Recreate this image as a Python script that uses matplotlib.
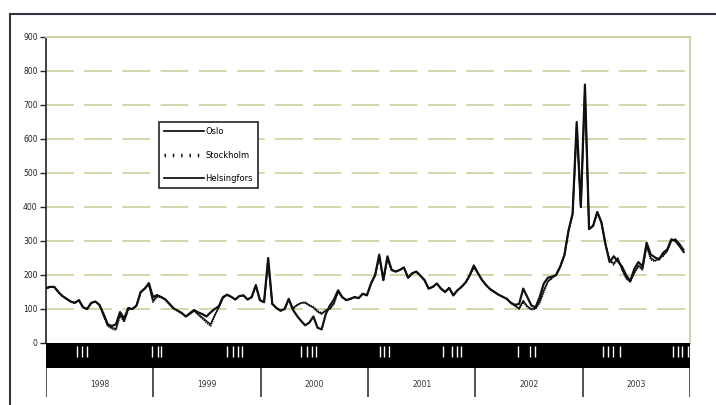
import numpy as np
import matplotlib
matplotlib.use("Agg")
import matplotlib.pyplot as plt
from matplotlib.lines import Line2D

plt.rcParams['lines.scale_dashes'] = False

# biweekly area prices, starting January 1998
oslo = [162, 165, 165, 150, 138, 130, 122, 118, 126, 105,
        100, 118, 122, 112, 85, 55, 50, 55, 91, 72,
        103, 100, 110, 150, 160, 176, 135, 141, 135, 128,
        115, 102, 95, 88, 78, 88, 97, 90, 85, 78,
        90, 100, 108, 135, 142, 136, 128, 138, 140, 128,
        135, 170, 126, 120, 250, 115, 103, 95, 100, 130,
        98, 80, 65, 52, 60, 78, 45, 40, 85, 110,
        128, 155, 135, 126, 130, 135, 132, 145, 140, 175,
        200, 260, 185, 255, 215, 210, 215, 222, 192, 205,
        210, 198, 185, 160, 165, 175, 160, 150, 162, 140,
        155, 165, 178, 200, 228, 205, 185, 170, 158, 150,
        142, 136, 130, 118, 112, 115, 160, 135, 110, 105,
        135, 175, 192, 195, 200, 225, 258, 330, 380, 650,
        400, 760, 335, 345, 385, 355, 290, 238, 255, 240,
        225, 200, 182, 218, 238, 225, 295, 260, 252, 245,
        265, 275, 305, 300, 285, 268]

stockholm = [160, 165, 165, 150, 138, 130, 122, 118, 126, 105,
             100, 118, 122, 112, 80, 50, 42, 38, 80, 62,
             98, 100, 110, 148, 160, 172, 120, 135, 135, 128,
             115, 102, 95, 88, 78, 85, 95, 82, 72, 60,
             50, 80, 105, 132, 142, 136, 128, 138, 140, 128,
             135, 170, 126, 120, 245, 115, 103, 95, 100, 128,
             100, 110, 118, 120, 112, 106, 95, 88, 97, 100,
             115, 150, 135, 126, 130, 135, 132, 145, 140, 175,
             198, 255, 185, 250, 215, 210, 215, 222, 192, 205,
             210, 198, 185, 160, 165, 175, 160, 150, 162, 140,
             155, 165, 178, 198, 222, 205, 185, 170, 158, 150,
             142, 136, 130, 118, 108, 100, 120, 105, 98, 100,
             118, 150, 180, 190, 200, 225, 258, 330, 380, 640,
             400, 750, 335, 345, 385, 355, 290, 245, 230, 250,
             215, 190, 180, 205, 225, 215, 285, 245, 240, 250,
             255, 270, 300, 305, 290, 272]

helsingfors = [160, 165, 165, 150, 138, 130, 122, 118, 126, 105,
               100, 118, 122, 112, 82, 52, 45, 42, 85, 65,
               100, 100, 110, 148, 160, 172, 125, 138, 135, 128,
               115, 102, 95, 88, 78, 86, 95, 85, 75, 65,
               55, 82, 105, 132, 142, 136, 128, 138, 140, 128,
               135, 168, 126, 120, 235, 115, 103, 95, 100, 128,
               102, 112, 118, 118, 110, 104, 92, 85, 95, 100,
               118, 152, 135, 126, 130, 135, 132, 145, 140, 175,
               198, 255, 185, 248, 215, 210, 215, 222, 192, 205,
               210, 198, 185, 160, 165, 175, 160, 150, 162, 140,
               155, 165, 178, 198, 225, 205, 185, 170, 158, 150,
               142, 136, 130, 118, 110, 102, 125, 108, 100, 102,
               122, 155, 182, 192, 200, 225, 258, 330, 380, 630,
               400, 740, 335, 345, 385, 355, 290, 242, 235, 248,
               218, 192, 180, 208, 228, 218, 288, 250, 242, 248,
               258, 272, 302, 305, 292, 275]

years = [1998, 1999, 2000, 2001, 2002, 2003]
yticks = [0, 100, 200, 300, 400, 500, 600, 700, 800, 900]
# positions (fractional years) of the few readable date-label gaps in the black axis band
label_gaps = [1998.29, 1998.34, 1998.38, 1998.99, 1999.04, 1999.07,
              1999.69, 1999.74, 1999.79, 1999.83, 2000.38, 2000.43, 2000.48, 2000.52,
              2001.11, 2001.15, 2001.20, 2001.70, 2001.78, 2001.83, 2001.87,
              2002.40, 2002.51, 2002.56, 2003.19, 2003.24, 2003.28, 2003.35,
              2003.84, 2003.89, 2003.93, 2003.98]

t = 1998 + np.arange(len(oslo)) * 14 / 365.25

W, H = 716, 405
fig = plt.figure(figsize=(W / 100, H / 100), dpi=100)
grid_col = '#d2d2a6'

x0, x1 = 46, 690
ax = fig.add_axes([x0 / W, 1 - 343 / H, (x1 - x0) / W, (343 - 37) / H])
ax.set_xlim(1998, 2004)
ax.set_ylim(0, 900)
for v in yticks[1:-1]:
    ax.axhline(v, color=grid_col, lw=1.3, dashes=[20, 7.5], zorder=1)
ax.spines['top'].set_color(grid_col)
ax.spines['right'].set_color(grid_col)
ax.spines['top'].set_linewidth(1.5)
ax.spines['right'].set_linewidth(1.5)
ax.spines['bottom'].set_visible(False)
ax.spines['left'].set_color('#222222')
ax.spines['left'].set_linewidth(1.2)
ax.set_yticks(yticks)
ax.set_yticklabels([str(v) for v in yticks])
ax.tick_params(axis='y', direction='out', length=4, width=1, pad=2,
               labelsize=5.5, colors='#222222')
ax.set_xticks([])

ax.plot(t, helsingfors, color='#111111', lw=1.0, zorder=3)
ax.plot(t, stockholm, color='#111111', lw=1.2, ls=(0, (1, 0.6)), zorder=3)
ax.plot(t, oslo, color='#111111', lw=1.6, zorder=4)

handles = [Line2D([], [], color='k', lw=1.2),
           Line2D([], [], color='k', lw=2.5, ls=(0, (1, 5))),
           Line2D([], [], color='k', lw=1.2)]
leg = ax.legend(handles, ['Oslo', 'Stockholm', 'Helsingfors'],
                loc='upper left', bbox_to_anchor=(0.175, 0.722),
                fontsize=6, frameon=True, fancybox=False, framealpha=1,
                edgecolor='#222222', handlelength=4.8, handletextpad=0.2,
                labelspacing=1.75, borderpad=0.6, borderaxespad=0)
leg.get_frame().set_linewidth(1.2)

# black band of overprinted date labels
axb = fig.add_axes([x0 / W, 1 - 368 / H, (x1 - x0) / W, 25 / H])
axb.set_facecolor('black')
axb.set_xlim(1998, 2004)
axb.set_ylim(0, 1)
axb.vlines(label_gaps, 0.45, 0.9, color='white', lw=1.0)
axb.set_xticks([])
axb.set_yticks([])
for s in axb.spines.values():
    s.set_visible(False)

# year labels
axl = fig.add_axes([x0 / W, 1 - 397 / H, (x1 - x0) / W, 29 / H])
axl.set_xlim(1998, 2004)
axl.set_ylim(0, 1)
axl.axis('off')
axl.vlines(years + [2004], 0, 1, color='#333333', lw=1.2)
for y in years:
    axl.text(y + 0.5, 0.42, str(y), ha='center', va='center',
             fontsize=5.5, color='#333333')

# outer chart frame
fig.add_artist(Line2D([10 / W, 1], [1 - 14 / H] * 2, transform=fig.transFigure,
                      color='#333340', lw=1.5))
fig.add_artist(Line2D([10 / W] * 2, [0, 1 - 14 / H], transform=fig.transFigure,
                      color='#333340', lw=1.5))

fig.savefig('out.png', dpi=100)
